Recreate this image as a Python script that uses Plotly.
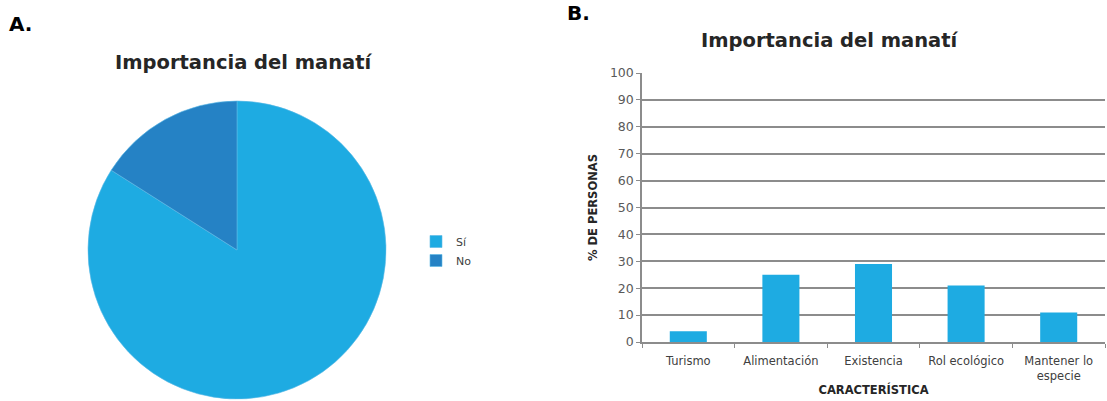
import plotly.graph_objects as go

# Data
pie_labels = ["Sí", "No"]
pie_values = [84, 16]
pie_colors = ["#1EABE2", "#2582C5"]

bar_categories = ["Turismo", "Alimentación", "Existencia", "Rol ecológico", "Mantener lo<br>especie"]
bar_values = [4, 25, 29, 21, 11]
bar_color = "#1EABE2"

y_ticks = list(range(0, 101, 10))

W, H = 1107, 401
FONT = "DejaVu Sans"

fig = go.Figure()

fig.add_trace(go.Pie(
    labels=pie_labels, values=pie_values,
    marker=dict(colors=pie_colors, line=dict(color="#5BB8E6", width=0.6)),
    sort=False, direction="clockwise", rotation=0,
    textinfo="none", hoverinfo="label+percent",
    domain=dict(x=[67 / W, 407 / W], y=[2 / H, 300 / H]),
    showlegend=True,
))

fig.add_trace(go.Bar(
    x=bar_categories, y=bar_values,
    marker=dict(color=bar_color, line=dict(width=0)),
    xaxis="x", yaxis="y", showlegend=False,
))

fig.update_layout(
    width=W, height=H,
    margin=dict(l=0, r=0, t=0, b=0, autoexpand=False),
    paper_bgcolor="white", plot_bgcolor="white",
    font=dict(family=FONT, color="#404040"),
    bargap=0.6,
    legend=dict(x=416 / W, y=(H - 227) / H, xanchor="left", yanchor="top",
                font=dict(size=11, color="#404040", family=FONT),
                itemwidth=30, bgcolor="rgba(0,0,0,0)"),
    xaxis=dict(domain=[642 / W, 1105 / W], anchor="y",
               showline=True, linecolor="#8c8c8c", linewidth=1.5,
               ticks="outside", tickson="boundaries", ticklen=4, tickcolor="#8c8c8c",
               ticklabelstandoff=7,
               tickfont=dict(size=11.5, color="#404040", family=FONT),
               showgrid=False,
               title=dict(text="<b>CARACTERÍSTICA</b>", font=dict(size=11.5, color="#262626", family=FONT), standoff=4)),
    yaxis=dict(domain=[(H - 342) / H, (H - 73) / H], anchor="x",
               range=[0, 100], tickvals=y_ticks,
               showline=True, linecolor="#8c8c8c", linewidth=1.5,
               ticks="outside", ticklen=4, tickcolor="#8c8c8c",
               showgrid=True, gridcolor="#8c8c8c", gridwidth=1.5,
               zeroline=False,
               tickfont=dict(size=12.5, color="#595959", family=FONT),
               title=dict(text="<b>% DE PERSONAS</b>", font=dict(size=11.5, color="#262626", family=FONT), standoff=10)),
    annotations=[
        dict(text="<b>A.</b>", x=7 / W, y=(H - 24) / H, xref="paper", yref="paper",
             xanchor="left", yanchor="middle", showarrow=False,
             font=dict(size=20, color="#000000", family=FONT)),
        dict(text="<b>B.</b>", x=565 / W, y=(H - 13) / H, xref="paper", yref="paper",
             xanchor="left", yanchor="middle", showarrow=False,
             font=dict(size=20, color="#000000", family=FONT)),
        dict(text="<b>Importancia del manatí</b>", x=244 / W, y=(H - 63) / H, xref="paper", yref="paper",
             xanchor="center", yanchor="middle", showarrow=False,
             font=dict(size=19.5, color="#262626", family=FONT)),
        dict(text="<b>Importancia del manatí</b>", x=830 / W, y=(H - 40) / H, xref="paper", yref="paper",
             xanchor="center", yanchor="middle", showarrow=False,
             font=dict(size=19.5, color="#262626", family=FONT)),
    ],
)

fig.write_html("out.html", config={"displayModeBar": False},
               post_script="document.body.style.margin='0';")
